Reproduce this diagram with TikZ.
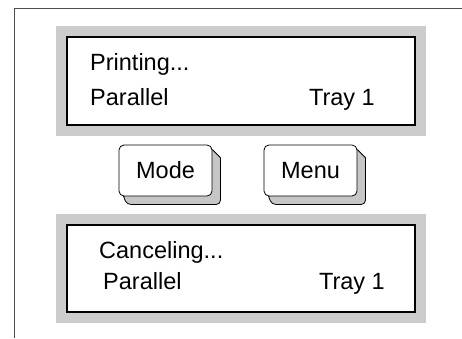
\documentclass[tikz,border=0pt]{standalone}
\usepackage{fontspec}
\setmainfont{Liberation Sans}
\usepackage{tikz}
\usetikzlibrary{positioning,backgrounds}

\begin{document}
\begin{tikzpicture}[x=1pt, y=-1pt, font=\fontsize{23.5}{28}\selectfont]
  \tikzstyle{bezel} = [rectangle, fill=gray!40, inner sep=0pt, minimum width=370pt]
  \tikzstyle{lcd} = [rectangle, draw, fill=white, line width=2.5pt, inner sep=0pt, minimum width=348pt]
  \tikzstyle{keyface} = [rectangle, rounded corners=5pt, draw, fill=white, line width=0.8pt, minimum width=93pt, minimum height=51pt, inner sep=0pt]
  \tikzstyle{keyside} = [draw, fill=gray!45, line width=0.8pt, line join=round]
  \tikzstyle{lcdtext} = [inner sep=0pt]

  \useasboundingbox (0,0) rectangle (462,338);

  % outer frame
  \draw[gray!60!black, line width=0.8pt] (14,338) -- (14,8) -- (462,8);

  % top display
  \node[bezel, minimum height=110pt] (bezel_top) at (241,81) {};
  \node[lcd, minimum height=88pt] (lcd_top) at (241,81) {};
  \node[lcdtext, anchor=base west] (msg_top) at (90,70) {Printing...};
  \node[lcdtext, anchor=base west] (port_top) at (90,105) {Parallel};
  \node[lcdtext, anchor=base east] (tray_top) at (375,105) {Tray 1};

  % keys
  \node[keyface] (mode) at (165.5,170.5) {Mode};
  \node[keyface] (menu) at (310.5,170.5) {Menu};

  \begin{scope}[on background layer]
    \draw[keyside] ([yshift=-5pt]mode.north east) -- ([shift={(8pt,-13pt)}]mode.north east)
      [rounded corners=4pt] -- ([shift={(8pt,-8pt)}]mode.south east) -- ([shift={(8pt,-8pt)}]mode.south west)
      [sharp corners] -- ([xshift=5pt]mode.south west) -- cycle;
    \draw[keyside] ([yshift=-5pt]menu.north east) -- ([shift={(8pt,-13pt)}]menu.north east)
      [rounded corners=4pt] -- ([shift={(8pt,-8pt)}]menu.south east) -- ([shift={(8pt,-8pt)}]menu.south west)
      [sharp corners] -- ([xshift=5pt]menu.south west) -- cycle;
  \end{scope}

  % bottom display
  \node[bezel, minimum height=109pt] (bezel_bot) at (241,268.5) {};
  \node[lcd, minimum height=87pt] (lcd_bot) at (241,268.5) {};
  \node[lcdtext, anchor=base west] (msg_bot) at (99,258) {Canceling...};
  \node[lcdtext, anchor=base west] (port_bot) at (103,289) {Parallel};
  \node[lcdtext, anchor=base east] (tray_bot) at (385,289) {Tray 1};
\end{tikzpicture}
\end{document}
